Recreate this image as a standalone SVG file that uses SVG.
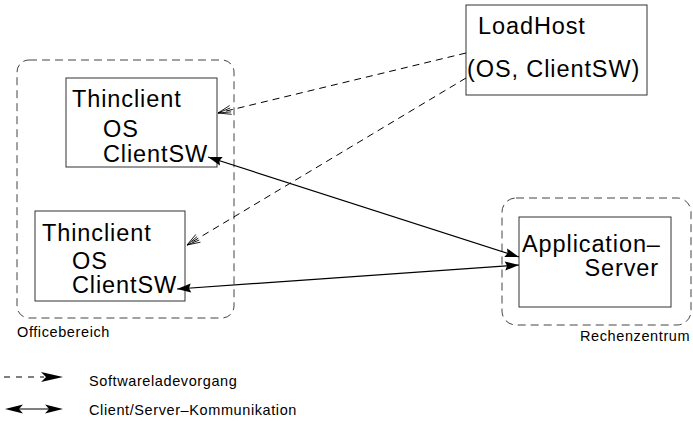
<svg xmlns="http://www.w3.org/2000/svg" width="693" height="422" viewBox="0 0 693 422">
<style>
.box{fill:#fff;stroke:#333;stroke-width:1}
.area{fill:none;stroke:#444;stroke-width:1;stroke-dasharray:8,5}
.big{font-family:"Liberation Sans",Arial,sans-serif;font-size:23.5px;letter-spacing:0.9px;fill:#000}
.small{font-family:"Liberation Sans",Arial,sans-serif;font-size:14.5px;letter-spacing:0.6px;fill:#000}
.dash{fill:none;stroke:#000;stroke-width:1;stroke-dasharray:7,5}
.solid{fill:none;stroke:#000;stroke-width:1.2}
</style>
<defs>
<marker id="open" markerUnits="userSpaceOnUse" markerWidth="20" markerHeight="20" viewBox="-15 -10 20 20" refX="0" refY="0" orient="auto">
<path d="M-13,-4.5 L0,0 L-13,4.5 M-13,-2 L0,0 L-13,2" fill="none" stroke="#000" stroke-width="0.8"/>
</marker>
<marker id="fill" markerUnits="userSpaceOnUse" markerWidth="20" markerHeight="20" viewBox="-15 -10 20 20" refX="0" refY="0" orient="auto-start-reverse">
<path d="M0,0 L-14,-4.5 L-12,0 L-14,4.5 Z" fill="#000"/>
</marker>
</defs>
<g id="area-office">
<rect class="area" x="17" y="60" width="217" height="258" rx="12"/>
<text class="small" x="17" y="337">Officebereich</text>
</g>
<g id="area-rechenzentrum">
<rect class="area" x="502" y="198" width="189" height="127" rx="14"/>
<text class="small" x="580" y="341">Rechenzentrum</text>
</g>
<g id="thinclient1">
<rect class="box" x="66" y="78" width="151" height="89"/>
<text class="big" x="72" y="107">Thinclient</text>
<text class="big" x="103" y="137">OS</text>
<text class="big" x="103" y="162">ClientSW</text>
</g>
<g id="thinclient2">
<rect class="box" x="35" y="211" width="150" height="90"/>
<text class="big" x="42" y="241">Thinclient</text>
<text class="big" x="72" y="269">OS</text>
<text class="big" x="72" y="293">ClientSW</text>
</g>
<g id="loadhost">
<rect class="box" x="466" y="5" width="181" height="90"/>
<text class="big" x="478" y="34">LoadHost</text>
<text class="big" x="467" y="77">(OS, ClientSW)</text>
</g>
<g id="appserver">
<rect class="box" x="519" y="217" width="152" height="90"/>
<text class="big" x="522" y="252">Application–</text>
<text class="big" x="659" y="276" text-anchor="end">Server</text>
</g>
<g id="connectors">
<line class="dash" x1="466" y1="53" x2="218" y2="113" marker-end="url(#open)"/>
<line class="dash" x1="466" y1="78" x2="187" y2="245" marker-end="url(#open)"/>
<line class="solid" x1="208" y1="157" x2="519" y2="257" marker-start="url(#fill)" marker-end="url(#fill)"/>
<line class="solid" x1="177" y1="289" x2="519" y2="265" marker-start="url(#fill)" marker-end="url(#fill)"/>
</g>
<g id="legend">
<line x1="4" y1="377" x2="44" y2="377" stroke="#000" stroke-width="1.2" stroke-dasharray="6,6"/>
<path d="M63,377 L41,372 L46,377 L41,382 Z" fill="#000"/>
<text class="small" x="89" y="386">Softwareladevorgang</text>
<line x1="10" y1="409" x2="58" y2="409" stroke="#000" stroke-width="1.2"/>
<path d="M5,409 L23,404.5 L19,409 L23,413.5 Z" fill="#000"/>
<path d="M63,409 L45,404.5 L49,409 L45,413.5 Z" fill="#000"/>
<text class="small" x="89" y="415">Client/Server–Kommunikation</text>
</g>
</svg>
